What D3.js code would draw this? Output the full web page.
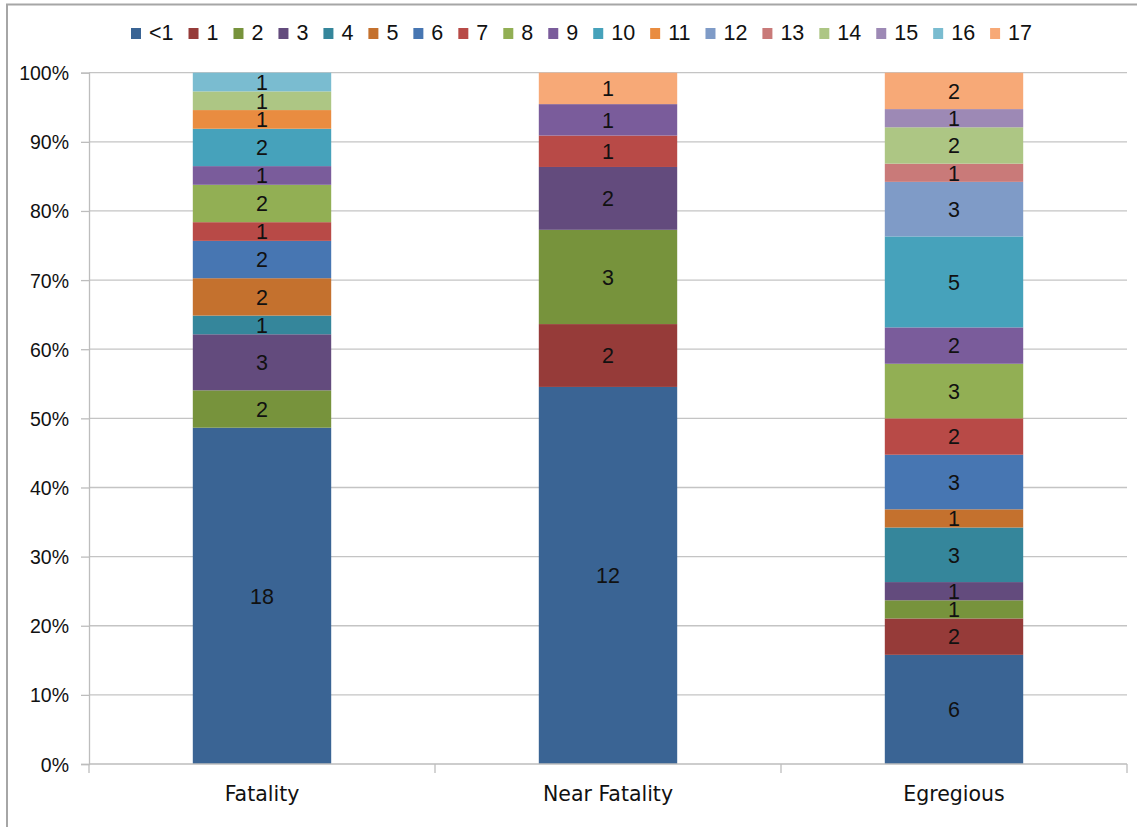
<!DOCTYPE html>
<html>
<head>
<meta charset="utf-8">
<script src="https://cdn.jsdelivr.net/npm/d3@7"></script>
<style>
  html, body { margin: 0; padding: 0; background: #fff; }
  svg { display: block; }
</style>
</head>
<body>
<svg id="chart" width="1137" height="827"></svg>
<script>
// Age groups (series) and case categories
const ages = ["<1","1","2","3","4","5","6","7","8","9","10","11","12","13","14","15","16","17"];
const categories = ["Fatality", "Near Fatality", "Egregious"];

// Case counts per age, in the order of `ages`
const fatality     = [18, 0, 2, 3, 1, 2, 2, 1, 2, 1, 2, 1, 0, 0, 1, 0, 1, 0];
const nearFatality = [12, 2, 3, 2, 0, 0, 0, 1, 0, 1, 0, 0, 0, 0, 0, 0, 0, 1];
const egregious    = [ 6, 2, 1, 1, 3, 1, 3, 2, 3, 2, 5, 0, 3, 1, 2, 1, 0, 2];

const yTicks = [0, 0.1, 0.2, 0.3, 0.4, 0.5, 0.6, 0.7, 0.8, 0.9, 1];

const palette = ["#3A6494","#963B39","#77933C","#634B7D","#35869B","#C4712E",
                 "#4776B2","#B84A47","#92AF54","#7A5C9B","#46A2BB","#E98C40",
                 "#7F9BC7","#C97A79","#ADC684","#9D89B5","#7ABCD0","#F7A977"];

const seriesByCategory = [fatality, nearFatality, egregious];
const rows = categories.map((c, i) => {
  const r = { category: c };
  ages.forEach((a, j) => { r[a] = seriesByCategory[i][j]; });
  return r;
});

const svg = d3.select("#chart");
const W = 1137, H = 827;

// outer frame
svg.append("rect")
  .attr("x", 7).attr("y", 4.5)
  .attr("width", W + 10).attr("height", H + 10)
  .attr("fill", "none").attr("stroke", "#A6A6A6").attr("stroke-width", 2);

const plot = { left: 89, right: 1127, top: 72.7, bottom: 764 };

const x = d3.scaleBand()
  .domain(categories)
  .range([plot.left, plot.right])
  .paddingInner(0.6)
  .paddingOuter(0.3);

const y = d3.scaleLinear().domain([0, 1]).range([plot.bottom, plot.top]);
const color = d3.scaleOrdinal().domain(ages).range(palette);

const stacked = d3.stack().keys(ages).offset(d3.stackOffsetExpand)(rows);

// gridlines
svg.append("g")
  .selectAll("line")
  .data(yTicks.filter(t => t > 0))
  .join("line")
  .attr("x1", plot.left).attr("x2", plot.right)
  .attr("y1", d => y(d)).attr("y2", d => y(d))
  .attr("stroke", "#C4C4C4").attr("stroke-width", 1.3);

// bars
const layers = svg.append("g")
  .selectAll("g")
  .data(stacked)
  .join("g")
  .attr("fill", d => color(d.key));

layers.selectAll("rect")
  .data(d => d.filter(s => s.data[d.key] > 0))
  .join("rect")
  .attr("x", d => x(d.data.category))
  .attr("width", x.bandwidth())
  .attr("y", d => y(d[1]))
  .attr("height", d => y(d[0]) - y(d[1]));

// value labels centred in each segment
const labels = svg.append("g")
  .attr("font-family", "'Liberation Sans', Arial, sans-serif")
  .attr("font-size", 21.5)
  .attr("fill", "#111")
  .attr("text-anchor", "middle");

stacked.forEach(layer => {
  labels.selectAll(null)
    .data(layer.filter(s => s.data[layer.key] > 0))
    .join("text")
    .attr("x", d => x(d.data.category) + x.bandwidth() / 2)
    .attr("y", d => (y(d[0]) + y(d[1])) / 2 + 7.8)
    .text(d => d.data[layer.key]);
});

// y axis
const yAxis = d3.axisLeft(y)
  .tickValues(yTicks)
  .tickFormat(d3.format(".0%"))
  .tickSize(8)
  .tickPadding(12);

const gy = svg.append("g")
  .attr("transform", `translate(${plot.left},0)`)
  .call(yAxis);
gy.select(".domain").attr("stroke", "#BDBDBD").attr("stroke-width", 1.3);
gy.selectAll(".tick line").attr("stroke", "#BDBDBD").attr("stroke-width", 1.3);
gy.selectAll(".tick text")
  .attr("font-family", "'Liberation Sans', Arial, sans-serif")
  .attr("font-size", 19.5)
  .attr("fill", "#111")
  .attr("dy", "0.36em");

// x axis with boundary ticks between categories
const gx = svg.append("g")
  .attr("transform", `translate(0,${plot.bottom})`);
gx.append("line")
  .attr("x1", plot.left).attr("x2", plot.right)
  .attr("stroke", "#BDBDBD").attr("stroke-width", 1.3);
const bounds = [plot.left].concat(categories.map(c => x(c) - x.step() * x.paddingInner() / 2 + x.step()));
gx.selectAll("line.tick")
  .data(bounds)
  .join("line")
  .attr("class", "tick")
  .attr("x1", d => d).attr("x2", d => d)
  .attr("y1", 0).attr("y2", 9)
  .attr("stroke", "#BDBDBD").attr("stroke-width", 1.3);
gx.selectAll("text")
  .data(categories)
  .join("text")
  .attr("x", d => x(d) + x.bandwidth() / 2)
  .attr("y", 37)
  .attr("text-anchor", "middle")
  .attr("font-family", "'DejaVu Sans', Verdana, sans-serif")
  .attr("font-size", 20.5)
  .attr("fill", "#111")
  .text(d => d);

// legend, laid out left to right from measured label widths
const legend = svg.append("g")
  .attr("font-family", "'Liberation Sans', Arial, sans-serif")
  .attr("font-size", 21.5)
  .attr("fill", "#111");

let lx = 131;
ages.forEach(a => {
  legend.append("rect")
    .attr("x", lx).attr("y", 28)
    .attr("width", 10).attr("height", 11)
    .attr("fill", color(a));
  const t = legend.append("text")
    .attr("x", lx + 18).attr("y", 40)
    .text(a);
  const w = t.node().getComputedTextLength();
  lx = lx + 18 + w + 15;
});
</script>
</body>
</html>
